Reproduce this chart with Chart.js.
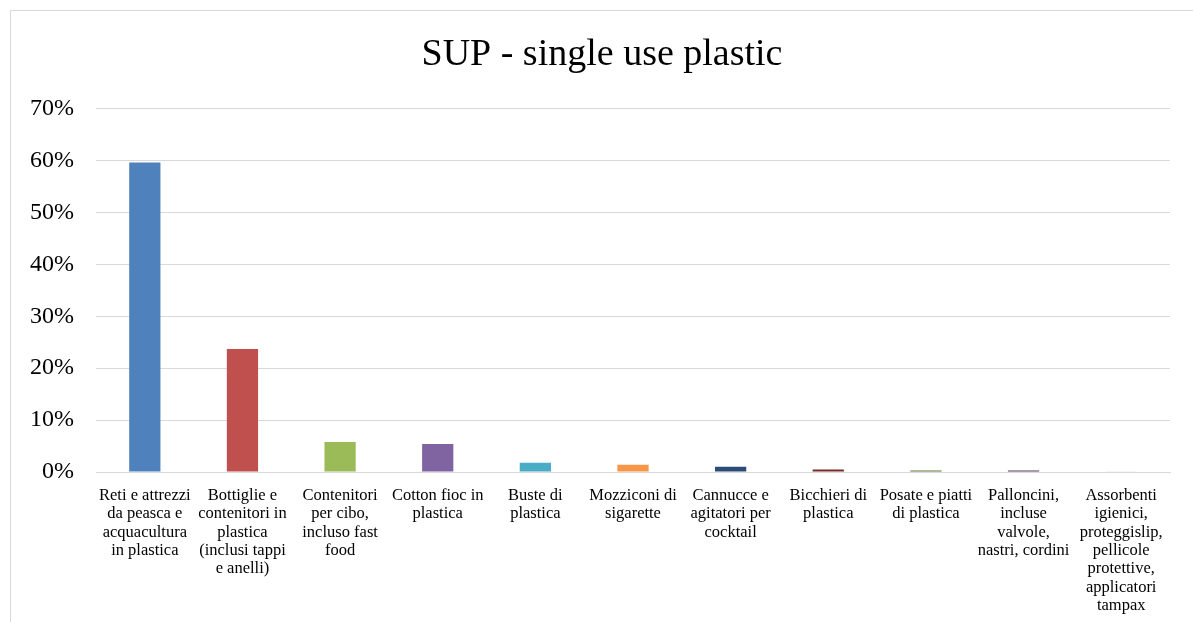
<!DOCTYPE html>
<html>
<head>
<meta charset="utf-8">
<script src="https://cdn.jsdelivr.net/npm/chart.js@4"></script>
<style>
  html,body{margin:0;padding:0;background:#fff;}
  #frame{position:absolute;left:10px;top:10px;width:1183px;height:612px;border-left:1px solid #d9d9d9;border-top:1px solid #d9d9d9;box-sizing:border-box;}
  #wrap{position:absolute;left:11px;top:11px;width:1182px;height:611px;}
</style>
</head>
<body>
<div id="frame"></div>
<div id="wrap"><canvas id="c"></canvas></div>
<script>
const categories = [
  ["Reti e attrezzi","da peasca e","acquacultura","in plastica"],
  ["Bottiglie e","contenitori in","plastica","(inclusi tappi","e anelli)"],
  ["Contenitori","per cibo,","incluso fast","food"],
  ["Cotton fioc in","plastica"],
  ["Buste di","plastica"],
  ["Mozziconi di","sigarette"],
  ["Cannucce e","agitatori per","cocktail"],
  ["Bicchieri di","plastica"],
  ["Posate e piatti","di plastica"],
  ["Palloncini,","incluse","valvole,","nastri, cordini"],
  ["Assorbenti","igienici,","proteggislip,","pellicole","protettive,","applicatori","tampax"]
];
const values = [0.596, 0.237, 0.058, 0.054, 0.018, 0.014, 0.010, 0.005, 0.003, 0.003, 0.0005];
const barColors = ["#4F81BD","#C0504D","#9BBB59","#8064A2","#4BACC6","#F79646","#2C4D75","#772C2A","#5F7530","#4D3B62","#d0d8e0"];
const titleText = "SUP - single use plastic";

const FONT = "'Liberation Serif','DejaVu Serif',serif";
new Chart(document.getElementById('c'), {
  type: 'bar',
  data: {
    labels: categories,
    datasets: [{ data: values, backgroundColor: barColors, borderWidth: 0, barPercentage: 0.64, categoryPercentage: 0.5 }]
  },
  options: {
    responsive: true, maintainAspectRatio: false, animation: false,
    layout: { padding: 0 },
    plugins: {
      legend: { display: false },
      tooltip: { enabled: false },
      title: { display: true, text: titleText, color: '#000', font: { family: FONT, size: 38, weight: 'normal' }, padding: { top: 21, bottom: 31 } }
    },
    scales: {
      x: {
        grid: { display: false, drawTicks: false },
        border: { display: true, color: '#d9d9d9', width: 1 },
        ticks: { color: '#000', font: { family: FONT, size: 16.5, lineHeight: 1.12 }, maxRotation: 0, minRotation: 0, autoSkip: false, padding: 14 },
        afterFit: s => { s.height = 150; }
      },
      y: {
        min: 0, max: 0.7,
        grid: { color: '#d9d9d9', drawTicks: false },
        border: { display: false },
        ticks: { stepSize: 0.1, color: '#000', font: { family: FONT, size: 24 }, padding: 22,
          callback: v => Math.round(v * 100) + '%' },
        afterFit: s => { s.width = 85; }
      },
      yr: {
        type: 'linear', position: 'right', display: true,
        grid: { display: false, drawTicks: false },
        border: { display: false },
        ticks: { display: false },
        afterFit: s => { s.width = 23; }
      }
    }
  }
});
</script>
</body>
</html>
